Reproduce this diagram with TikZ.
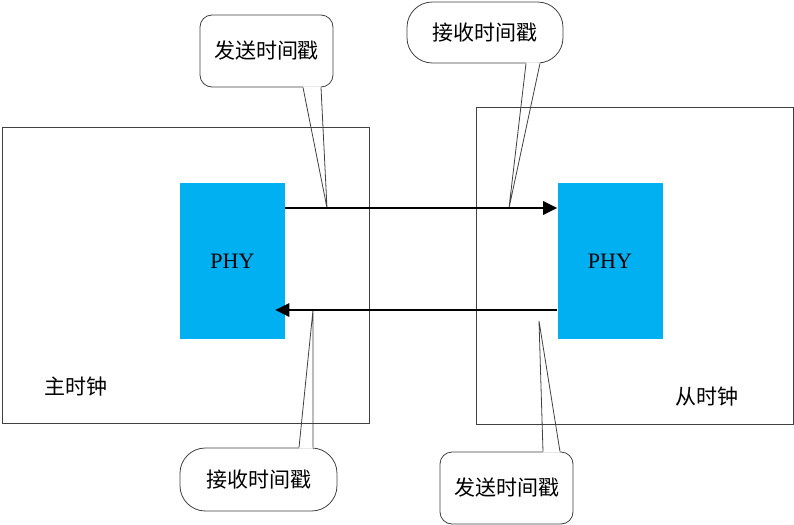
\documentclass[tikz,border=0pt]{standalone}
\usepackage{fontspec}
\setmainfont{Liberation Serif}
\newfontfamily\cjk{Noto Sans CJK SC}
\usetikzlibrary{arrows.meta, calc}
\definecolor{phyBlue}{HTML}{00B0F0}
\definecolor{lineGray}{HTML}{404040}

\begin{document}
\begin{tikzpicture}[x=0.75pt, y=-0.75pt,
    clockbox/.style={rectangle, draw=lineGray, line width=0.75pt, inner sep=0pt},
    phy/.style={rectangle, fill=phyBlue, inner sep=0pt,
      minimum width=78.75pt, minimum height=117pt,
      font=\fontsize{16.5}{19}\selectfont},
    callout/.style={rectangle, draw=lineGray, fill=white, line width=0.6pt,
      inner sep=0pt, font=\cjk\fontsize{15.75}{18}\selectfont},
    boxlabel/.style={font=\cjk\fontsize{15.75}{18}\selectfont},
    sig/.style={line width=1.6pt, -{Triangle[length=10.5pt, width=10pt]}},
    ptr/.style={draw=lineGray, line width=0.6pt}
  ]
  \useasboundingbox (0,0) rectangle (794,525);

  \node[callout, rounded corners=9pt, minimum width=99.75pt, minimum height=54pt]
    (sendM) at (266.5,51) {发送时间戳};
  \node[callout, rounded corners=19pt, minimum width=117pt, minimum height=45.75pt]
    (recvS) at (485,32.5) {接收时间戳};
  \node[callout, rounded corners=19pt, minimum width=117.75pt, minimum height=47.25pt]
    (recvM) at (258.5,479.5) {接收时间戳};
  \node[callout, rounded corners=9pt, minimum width=99.75pt, minimum height=54pt]
    (sendS) at (506.5,488) {发送时间戳};

  \coordinate (tipSendM) at (327,208);
  \coordinate (tipRecvS) at (509,208);
  \coordinate (tipRecvM) at (313,310);
  \coordinate (tipSendS) at (539,321);

  \foreach \c/\a/\l/\r/\d/\t in {sendM/south/36.5/54.5/-1/tipSendM,
                                 recvS/south/41/55/-1/tipRecvS,
                                 recvM/north/40.5/54.5/1/tipRecvM,
                                 sendS/north/36.5/53.5/1/tipSendS} {
    \fill[white] ($(\c.\a)+(\l,\d)$) -- (\t) -- ($(\c.\a)+(\r,\d)$) -- cycle;
    \draw[ptr] ($(\c.\a)+(\l,0)$) -- (\t) -- ($(\c.\a)+(\r,0)$);
  }

  \node[clockbox, minimum width=275.25pt, minimum height=222pt]
    (master) at (185.5,275) {};
  \node[clockbox, minimum width=237.75pt, minimum height=237.75pt]
    (slave) at (634.5,265.5) {};

  \node[phy] (phyM) at (232.5,261) {PHY};
  \node[phy] (phyS) at (610,261) {PHY};

  \draw[sig] ($(phyM.east)+(0,-53)$) -- ($(phyS.west)+(0,-53)$);
  \draw[sig] ($(phyS.west)+(0,49)$) -- ($(phyM.east)+(-10,49)$);

  \node[boxlabel] (masterLbl) at (76,387) {主时钟};
  \node[boxlabel] (slaveLbl) at (707,397) {从时钟};
\end{tikzpicture}
\end{document}
